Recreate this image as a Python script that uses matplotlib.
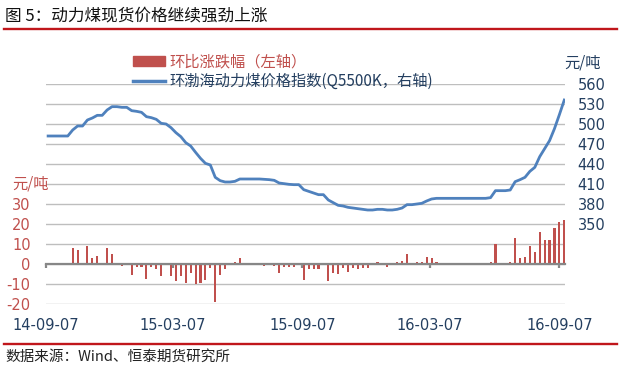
import numpy as np
import pandas as pd
import matplotlib.pyplot as plt
import matplotlib.dates as mdates
from matplotlib.lines import Line2D

plt.rcParams['font.family'] = ['DejaVu Sans', 'Noto Sans CJK SC']
CJK = ['Noto Sans CJK SC', 'DejaVu Sans']

# weekly data, Wednesdays
dates = pd.date_range('2014-09-10', periods=106, freq='7D')

# week-on-week change, yuan/ton (left axis)
change = [0, 0, 0, 0, 0, 8, 7, 0, 9, 3,
          4, 0, 8, 5, 0, -1, 0, -5.5, -1.5, -1.5,
          -7.5, -1.5, -2.5, -6, 0, -6, -8.5, -6, -9.5, -4.5,
          -10, -9.5, -8, -2, -19, -5.5, -2.5, 0, 1, 3,
          0, 0, 0, 0, -1, 0, -1, -4.5, -1.5, -1.5,
          -1.5, 0, -8, -2.5, -2.5, -2.5, 0, -8.5, -4.5, -5,
          -2, -4, -2, -2.5, -2, -2, 0, 1, 0, -1.5,
          0, 1, 1.5, 5, 0, 1, 1, 3.5, 3, 1,
          0, 0, 0, 0, 0, 0, 0, 0, 0, 0,
          1, 10, 0, 0, 1, 13, 3, 3.5, 9, 6,
          16, 12, 12, 18, 21, 22]

# Bohai-Rim steam coal price index Q5500K (right axis)
bspi = [482, 482, 482, 482, 482, 491, 497, 497, 506, 509,
        513, 513, 521, 526, 526, 525, 525, 520, 519, 517.5,
        511, 509.5, 507, 501, 500, 494.5, 487, 481, 472, 467,
        457.5, 448.5, 441, 438.5, 420, 415, 413, 413, 414, 417.5,
        417.5, 417.5, 417.5, 417.5, 417, 416.5, 415.5, 411.5, 410.5, 409.5,
        409, 409, 401.5, 399, 396.5, 394, 394, 386, 382, 378,
        377, 375, 374, 373, 372, 371, 371, 372, 372, 371,
        371, 372, 374, 379, 379, 380, 381, 384.5, 387.5, 388.5,
        388.5, 388.5, 388.5, 388.5, 388.5, 388.5, 388.5, 388.5, 388.5, 388.5,
        389.5, 400, 400, 400, 401, 413.5, 416.5, 420, 429, 435,
        451, 463, 475, 493, 514, 536]

tick_dates = pd.to_datetime(['2014-09-07', '2015-03-07', '2015-09-07',
                             '2016-03-07', '2016-09-07'])
left_ticks = [-20, -10, 0, 10, 20, 30]
right_ticks = [350, 380, 410, 440, 470, 500, 530, 560]

red = '#C0504D'
blue = '#4F81BD'
navy = '#243F60'
grid = '#BEBEBE'

fig = plt.figure(figsize=(6.2, 3.71), dpi=100)
ax = fig.add_axes([46/620, 1-304/371, 519/620, 220/371])

ax.bar(dates, change, width=3.0, color=red, zorder=3)
ax.set_ylim(-20, 90)
ax.set_yticks(np.arange(-20, 91, 10))
ax.set_yticklabels([str(v) if v in left_ticks else '' for v in np.arange(-20, 91, 10)])
ax.yaxis.grid(True, color=grid, lw=1.0, zorder=0)
ax.set_axisbelow(True)
ax.tick_params(axis='y', length=0, pad=11, labelcolor=red, labelsize=10.5)

ax.set_xlim(pd.Timestamp('2014-09-07'), pd.Timestamp('2016-09-15'))
ax.set_xticks(tick_dates)
ax.xaxis.set_major_formatter(mdates.DateFormatter('%y-%m-%d'))
ax.spines['bottom'].set_position(('data', 0))
ax.spines['bottom'].set_color('#878787')
ax.spines['bottom'].set_linewidth(1.6)
ax.spines['bottom'].set_zorder(4)
ax.tick_params(axis='x', direction='out', length=3, width=1.6, color='#878787',
               pad=36, labelcolor=navy, labelsize=10.5)
for s in ['top', 'left', 'right']:
    ax.spines[s].set_visible(False)

ax2 = ax.twinx()
ax2.plot(dates, bspi, color=blue, lw=2.0, zorder=5)
ax2.set_ylim(230, 560)
ax2.set_yticks(right_ticks)
ax2.tick_params(axis='y', length=0, pad=9, labelcolor=navy, labelsize=10.5)
for s in ['top', 'left', 'right', 'bottom']:
    ax2.spines[s].set_visible(False)

fig.text(31/620, 1-184/371, '元/吨', color=red, fontsize=11, family=CJK,
         ha='center', va='center')
fig.text(583/620, 1-63/371, '元/吨', color=navy, fontsize=11, family=CJK,
         ha='center', va='center')

handles = [plt.Rectangle((0, 0), 1, 1, color=red), Line2D([], [], color=blue, lw=2.5)]
labels = ['环比涨跌幅（左轴）', '环渤海动力煤价格指数(Q5500K，右轴)']
leg = fig.legend(handles, labels, loc='upper left', bbox_to_anchor=(133/620, 1-53/371),
                 frameon=False, borderpad=0, borderaxespad=0, handlelength=2.1,
                 handleheight=0.65, handletextpad=0.3, labelspacing=0.2,
                 prop={'family': CJK, 'size': 11})
leg.get_texts()[0].set_color(red)
leg.get_texts()[1].set_color(navy)

fig.text(5/620, 1-16/371, '图 5：动力煤现货价格继续强劲上涨', fontsize=12,
         family=CJK, ha='left', va='center', color='#111111')
fig.add_artist(Line2D([4/620, 0.995], [1-29/371, 1-29/371], color='#C0161B', lw=1.7))
fig.add_artist(Line2D([4/620, 0.995], [1-344/371, 1-344/371], color='#C0161B', lw=1.7))
fig.text(5/620, 1-357/371, '数据来源：Wind、恒泰期货研究所', fontsize=10.5,
         family=CJK, ha='left', va='center', color='#222222')

fig.savefig('out.png', dpi=100)
